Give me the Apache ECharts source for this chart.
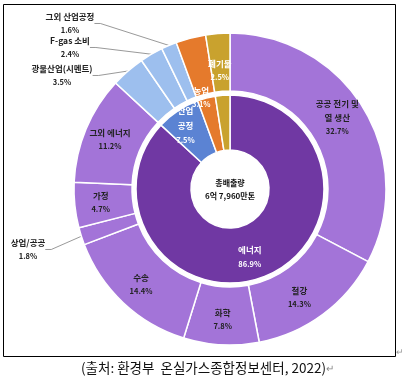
<!DOCTYPE html>
<html><head><meta charset="utf-8">
<script src="https://cdn.jsdelivr.net/npm/echarts@6/dist/echarts.min.js"></script>
<style>html,body{margin:0;padding:0;background:#fff;}#c{width:404px;height:384px;}</style>
</head><body><div id="c"></div>
<script>
// ---- data ----
const innerNames = ['에너지', '산업\n공정', '농업', '폐기물'];
const innerValues = [86.9, 7.5, 3.1, 2.5];
const outerNames = ['공공 전기 및\n열 생산', '철강', '화학', '수송', '상업/공공', '가정', '그외 에너지',
  '광물산업(시멘트)', 'F-gas 소비', '그외 산업공정', '농업', '폐기물'];
const outerValues = [32.7, 14.3, 7.8, 14.4, 1.8, 4.7, 11.2, 3.5, 2.4, 1.6, 3.1, 2.5];
const outerGroup = [0, 0, 0, 0, 0, 0, 0, 1, 1, 1, 2, 3]; // index into inner categories
const centerLines = ['총배출량', '6억 7,960만톤'];
const caption = '(출처: 환경부  온실가스종합정보센터, 2022)';

// ---- styles ----
const innerColors = ['#7038a3', '#5b83d3', '#e57a2c', '#c9a22e'];
const outerColors = ['#a374d8', '#9dbfee', '#e57a2c', '#c9a22e'];
const FONT = '"Noto Sans CJK KR", "Noto Sans", sans-serif';
const calloutPos = { // label anchor (center/top) for callout labels
  4: [28, 236],
  7: [62, 62],
  8: [70, 34],
  9: [70, 10]
};
const labelShift = {0: [-4, -5], 1: [-8, 4], 10: [4, 34], 11: [0, 11]};

const outerData = outerNames.map((n, i) => {
  const item = {name: n, value: outerValues[i], itemStyle: {color: outerColors[outerGroup[i]]}};
  const dark = outerGroup[i] < 2;
  const base = {
    color: dark ? '#222' : '#fff',
    rich: {
      n: {fontSize: 8.5, fontWeight: 'bold', lineHeight: 14, color: dark ? '#222' : '#fff', fontFamily: FONT},
      p: {fontSize: 7.5, fontWeight: 'bold', lineHeight: 13, color: dark ? '#222' : '#fff', fontFamily: FONT}
    }
  };
  if (calloutPos[i]) {
    item.label = Object.assign({position: 'outside'}, base);
    item.labelLine = {show: true, length: 6, length2: 6, lineStyle: {color: '#7f7f7f', width: 0.8}};
  } else {
    item.label = Object.assign({position: 'inside'}, base);
    item.labelLine = {show: false};
  }
  return item;
});

const innerData = innerNames.map((n, i) => ({
  name: n, value: innerValues[i], itemStyle: {color: innerColors[i]},
  label: {show: i < 2}
}));

const chart = echarts.init(document.getElementById('c'), null, {renderer: 'canvas'});
chart.setOption({
  animation: false,
  backgroundColor: '#fff',
  graphic: [
    {type: 'rect', shape: {x: 3.5, y: 4.5, width: 392, height: 352}, style: {fill: 'none', stroke: '#000', lineWidth: 1}, z: -1},
    {type: 'text', left: 81, top: 361, style: {
      text: '{c|' + caption + '}{m|↵}',
      rich: {c: {fontSize: 13.5, fill: '#111', fontFamily: FONT}, m: {fontSize: 10, fill: '#888', fontFamily: FONT}}
    }},
    {type: 'text', left: 396, top: 347, style: {text: '↵', fontSize: 9, fill: '#999', fontFamily: FONT}}
  ],
  series: [
    {
      type: 'pie', center: [230, 189], radius: [39, 94], startAngle: 90, clockwise: true,
      silent: true, avoidLabelOverlap: false,
      itemStyle: {borderColor: '#fff', borderWidth: 1.5},
      label: {position: 'inside', formatter: '{n|{b}}\n{p|{c}%}',
        rich: {
          n: {fontSize: 8.5, fontWeight: 'bold', lineHeight: 15, color: '#fff', fontFamily: FONT},
          p: {fontSize: 7.5, fontWeight: 'bold', lineHeight: 13, color: '#fff', fontFamily: FONT}
        }},
      labelLine: {show: false},
      labelLayout: function (p) {
        if (p.dataIndex === 1) return {dx: -6, dy: -6};
        if (p.dataIndex === 0) return {dx: -8, dy: 4};
        return {};
      },
      data: innerData
    },
    {
      type: 'pie', center: [230, 189], radius: [98, 156], startAngle: 90, clockwise: true,
      silent: true, avoidLabelOverlap: false,
      itemStyle: {borderColor: '#fff', borderWidth: 1.5},
      label: {formatter: '{n|{b}}\n{p|{c}%}'},
      labelLayout: function (p) {
        const pos = calloutPos[p.dataIndex];
        if (pos) return {x: pos[0], y: pos[1], align: 'center', verticalAlign: 'top'};
        const s = labelShift[p.dataIndex];
        if (s) return {dx: s[0], dy: s[1]};
        return {};
      },
      data: outerData
    },
    {
      type: 'pie', center: [230, 189], radius: [0, 37], silent: true,
      itemStyle: {color: '#fff'},
      label: {position: 'center', formatter: '{a|' + centerLines[0] + '}\n{a|' + centerLines[1] + '}',
        rich: {a: {fontSize: 8, fontWeight: 'bold', lineHeight: 13, color: '#111', fontFamily: FONT}}},
      labelLine: {show: false},
      data: [{name: 'total', value: 1}]
    }
  ]
});
</script></body></html>
